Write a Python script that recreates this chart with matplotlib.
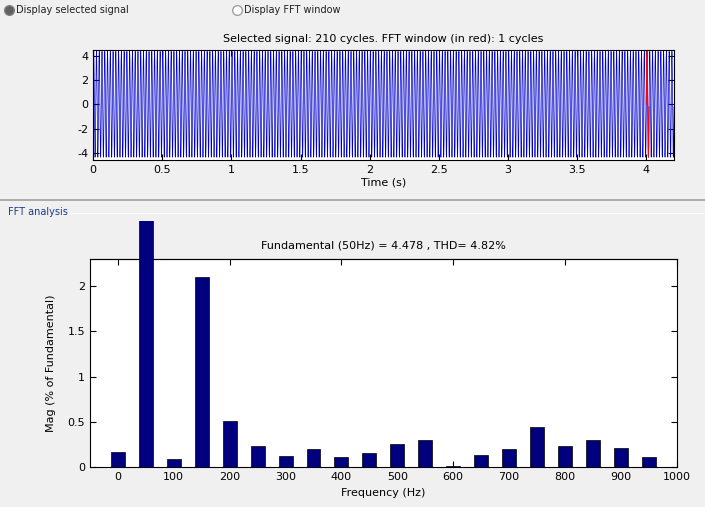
import numpy as np
import matplotlib.pyplot as plt
from matplotlib.lines import Line2D
from matplotlib.transforms import Bbox, TransformedBbox

plt.rcParams['axes.unicode_minus'] = False

# harmonic spectrum (% of fundamental)
freqs = [0, 50, 100, 150, 200, 250, 300, 350, 400, 450,
         500, 550, 600, 650, 700, 750, 800, 850, 900, 950]
mags = [0.17, 100, 0.09, 2.10, 0.51, 0.24, 0.13, 0.20, 0.11, 0.16,
        0.26, 0.30, 0.01, 0.14, 0.20, 0.44, 0.24, 0.30, 0.21, 0.11]
fund_amp = 4.478
f0 = 50
n_cycles = 210
time_ticks = [0, 0.5, 1, 1.5, 2, 2.5, 3, 3.5, 4]
freq_ticks = list(range(0, 1001, 100))
mag_ticks = [0, 0.5, 1, 1.5, 2]

bg = '#f0f0f0'
navy = '#00007f'

# time signal rebuilt from the harmonics
fs = 10000
t = np.arange(0, n_cycles / f0, 1 / fs)
sig = np.zeros_like(t)
for f, m in zip(freqs, mags):
    if f == 0:
        sig += fund_amp * m / 100
    else:
        sig += fund_amp * m / 100 * np.sin(2 * np.pi * f * t)

fig = plt.figure(figsize=(7.05, 5.07), dpi=100, facecolor=bg)
W, H = 705, 507


def fx(px):
    return px / W


def fy(py):
    return 1 - py / H


# radio buttons
fig.add_artist(Line2D([fx(9)], [fy(10)], marker='o', ms=7, mfc='#606060', mec='#808080',
                      transform=fig.transFigure))
fig.text(fx(16), fy(10), 'Display selected signal', fontsize=7, va='center', color='#202020')
fig.add_artist(Line2D([fx(237)], [fy(10)], marker='o', ms=7, mfc='white', mec='#a0a0a0',
                      transform=fig.transFigure))
fig.text(fx(244), fy(10), 'Display FFT window', fontsize=7, va='center', color='#202020')

# --- signal axes
ax1 = fig.add_axes([fx(93), fy(160), fx(674 - 93), (160 - 50) / H])
ax1.plot(t, sig, color='#0000cc', lw=0.5)
win = (t >= 4.0) & (t <= 4.02)
ax1.plot(t[win], sig[win], color='red', lw=0.7)
ax1.set_xlim(0, n_cycles / f0)
ax1.set_ylim(-4.6, 4.5)
ax1.set_xticks(time_ticks)
ax1.set_xticklabels(['0', '0.5', '1', '1.5', '2', '2.5', '3', '3.5', '4'])
ax1.set_yticks([-4, -2, 0, 2, 4])
ax1.tick_params(direction='in', top=True, right=True, labelsize=8, length=4)
ax1.set_title('Selected signal: 210 cycles. FFT window (in red): 1 cycles', fontsize=8, pad=6)
ax1.set_xlabel('Time (s)', fontsize=8, labelpad=2)

# separators
fig.add_artist(Line2D([0, 1], [fy(200), fy(200)], color='#a0a0a0', lw=1.2,
                      transform=fig.transFigure))
fig.add_artist(Line2D([fx(58), 1], [fy(213), fy(213)], color='#ffffff', lw=1,
                      transform=fig.transFigure))
fig.text(fx(8), fy(212), 'FFT analysis', fontsize=7, va='center', color='#1a3a8a')

# --- spectrum axes
ax2 = fig.add_axes([fx(90), fy(467.3), fx(676.7 - 90), (467.3 - 259.3) / H])
bars = ax2.bar(freqs, mags, width=25, color=navy, edgecolor='black', lw=0.5, zorder=3)
clip = TransformedBbox(Bbox([[0, 0], [1, fy(220.7)]]), fig.transFigure)
for b in bars:
    b.set_clip_box(clip)
ax2.set_axisbelow(True)
ax2.set_xlim(-50, 1000)
ax2.set_ylim(0, 2.293)
ax2.set_xticks(freq_ticks)
ax2.set_yticks(mag_ticks)
ax2.set_yticklabels(['0', '0.5', '1', '1.5', '2'])
ax2.tick_params(direction='in', right=True, labelsize=8, length=4)
top = ax2.secondary_xaxis('top')
top.set_xticks(freq_ticks[::2])
top.tick_params(direction='in', length=4, labeltop=False)
ax2.set_title('Fundamental (50Hz) = 4.478 , THD= 4.82%', fontsize=8, pad=8)
ax2.set_xlabel('Frequency (Hz)', fontsize=8, labelpad=4)
ax2.set_ylabel('Mag (% of Fundamental)', fontsize=8, labelpad=8)

fig.savefig('out.png', dpi=100, facecolor=bg)
